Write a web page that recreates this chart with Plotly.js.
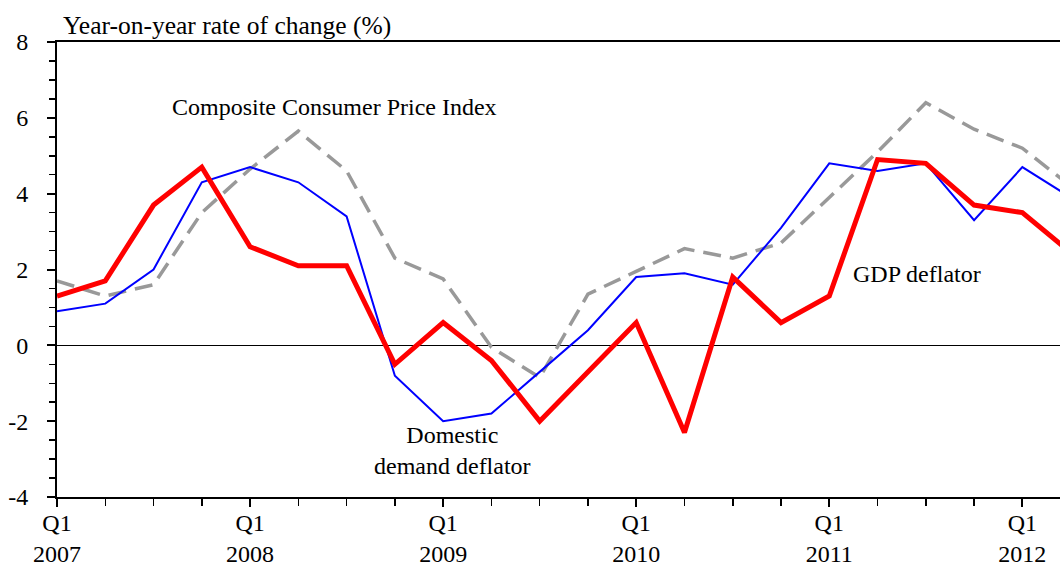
<!DOCTYPE html>
<html>
<head>
<meta charset="utf-8">
<script src="https://cdn.plot.ly/plotly-3.0.1.min.js"></script>
<style>html,body{margin:0;padding:0;background:#fff}#chart{width:1060px;height:567px}</style>
</head>
<body>
<div id="chart"></div>
<script>
var quarters = ['2007Q1','2007Q2','2007Q3','2007Q4','2008Q1','2008Q2','2008Q3','2008Q4',
  '2009Q1','2009Q2','2009Q3','2009Q4','2010Q1','2010Q2','2010Q3','2010Q4',
  '2011Q1','2011Q2','2011Q3','2011Q4','2012Q1','2012Q2'];
var gdpDeflator = [1.3, 1.7, 3.7, 4.7, 2.6, 2.1, 2.1, -0.5, 0.6, -0.4, -2.0, -0.7, 0.6, -2.3, 1.8, 0.6, 1.3, 4.9, 4.8, 3.7, 3.5, 2.45];
var domesticDemandDeflator = [0.9, 1.1, 2.0, 4.3, 4.7, 4.3, 3.4, -0.8, -2.0, -1.8, -0.7, 0.4, 1.8, 1.9, 1.6, 3.1, 4.8, 4.6, 4.8, 3.3, 4.7, 3.9];
var ccpi = [1.7, 1.3, 1.6, 3.5, 4.65, 5.65, 4.6, 2.3, 1.75, -0.05, -0.85, 1.35, 1.95, 2.55, 2.3, 2.7, 3.9, 5.1, 6.4, 5.7, 5.2, 4.2];
var tickQuarters = ['2007Q1','2008Q1','2009Q1','2010Q1','2011Q1','2012Q1'];
var tickLabels = ['Q1<br>2007','Q1<br>2008','Q1<br>2009','Q1<br>2010','Q1<br>2011','Q1<br>2012'];
var yTickVals = [-4, -2, 0, 2, 4, 6, 8];
var yTickLabels = ['-4', '-2', '0', '2', '4', '6', '8'];

var xIdx = quarters.map(function(q, i){ return i; });
var tickVals = tickQuarters.map(function(q){ return quarters.indexOf(q); });
var FONT = '"Times New Roman", "Liberation Serif", Tinos, "DejaVu Serif", serif';

var traces = [
  {x: xIdx, y: ccpi, mode: 'lines', line: {color: '#999999', width: 3.5, dash: '18px,9px'}, hoverinfo: 'skip'},
  {x: xIdx, y: domesticDemandDeflator, mode: 'lines', line: {color: '#0000ff', width: 2}, hoverinfo: 'skip'},
  {x: xIdx, y: gdpDeflator, mode: 'lines', line: {color: '#ff0000', width: 5}, hoverinfo: 'skip'}
];

var xRange = [0, 20.78];
var layout = {
  width: 1060, height: 567,
  margin: {l: 57, r: 0, t: 42, b: 70},
  paper_bgcolor: '#fff', plot_bgcolor: '#fff',
  showlegend: false,
  font: {family: FONT, size: 24, color: '#000'},
  xaxis: {
    range: xRange, showgrid: false, zeroline: false,
    showline: true, linecolor: '#000', linewidth: 2, mirror: true,
    tickmode: 'array', tickvals: tickVals, ticktext: tickLabels,
    ticks: 'outside', ticklen: 8, tickwidth: 2, tickcolor: '#000',
    minor: {dtick: 1, tick0: 0, ticks: 'outside', ticklen: 7, tickwidth: 1.5, tickcolor: '#000', showgrid: false},
    ticklabelstandoff: -5,
    tickfont: {family: FONT, size: 24, color: '#000'}
  },
  xaxis2: {
    overlaying: 'x', anchor: 'y', side: 'bottom', range: xRange,
    showgrid: false, zeroline: false, showline: false,
    tickmode: 'array', tickvals: tickVals, showticklabels: false,
    ticks: 'inside', ticklen: 9, tickwidth: 2, tickcolor: '#000'
  },
  yaxis: {
    range: [-4, 8], showgrid: false,
    zeroline: true, zerolinecolor: '#000', zerolinewidth: 1.2,
    showline: true, linecolor: '#000', linewidth: 2,
    tickmode: 'array', tickvals: yTickVals, ticktext: yTickLabels,
    ticks: 'outside', ticklen: 8, tickwidth: 2, tickcolor: '#000',
    minor: {dtick: 0.5, tick0: 0, ticks: 'outside', ticklen: 6, tickwidth: 1.5, tickcolor: '#000', showgrid: false},
    ticklabelstandoff: 14,
    tickfont: {family: FONT, size: 24, color: '#000'}
  },
  annotations: [
    {xref: 'paper', yref: 'paper', x: 0, y: 1, xshift: 4, yshift: 0, xanchor: 'left', yanchor: 'bottom',
     text: 'Year-on-year rate of change (%)', showarrow: false, font: {family: FONT, size: 25.5, color: '#000'}},
    {x: 5.74, y: 6.28, text: 'Composite Consumer Price Index', showarrow: false, xanchor: 'center', yanchor: 'middle',
     font: {family: FONT, size: 24, color: '#000'}},
    {x: 8.2, y: -2.77, text: 'Domestic<br>demand deflator', showarrow: false, xanchor: 'center', yanchor: 'middle',
     font: {family: FONT, size: 24, color: '#000'}},
    {x: 17.82, y: 1.87, text: 'GDP deflator', showarrow: false, xanchor: 'center', yanchor: 'middle',
     font: {family: FONT, size: 24, color: '#000'}}
  ]
};

Plotly.newPlot('chart', traces, layout, {staticPlot: true, displayModeBar: false});
</script>
</body>
</html>
